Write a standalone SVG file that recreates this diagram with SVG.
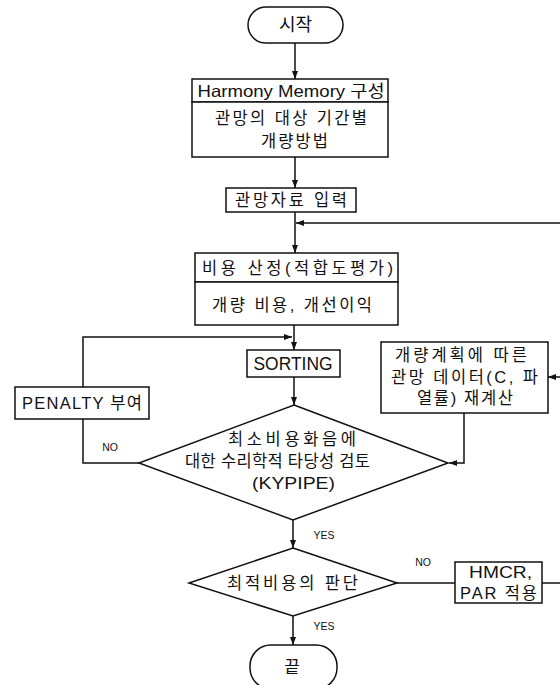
<svg xmlns="http://www.w3.org/2000/svg" width="560" height="685" viewBox="0 0 560 685">
<defs>
<marker id="arr" markerWidth="8" markerHeight="6" refX="8" refY="3" orient="auto" markerUnits="userSpaceOnUse">
<path d="M0,0 L8,3 L0,6 z" fill="#111"/>
</marker>
<style>
.box{fill:#fff;stroke:#111;stroke-width:1.5}
.ln{fill:none;stroke:#111;stroke-width:1.5}
.t{font-family:"Liberation Sans","Noto Sans CJK KR",sans-serif;font-size:16.5px;fill:#111;text-anchor:middle;dominant-baseline:central}
.s{font-family:"Liberation Sans","Noto Sans CJK KR",sans-serif;font-size:10.5px;fill:#111;text-anchor:middle;dominant-baseline:central}
</style>
</defs>
<rect width="560" height="685" fill="#fff"/>
<g id="connectors">
<path class="ln" d="M295,42 V79" marker-end="url(#arr)"/>
<path class="ln" d="M295,157 V188" marker-end="url(#arr)"/>
<path class="ln" d="M295,212 V253" marker-end="url(#arr)"/>
<path class="ln" d="M560,223 H296" marker-end="url(#arr)"/>
<path class="ln" d="M294,325 V350" marker-end="url(#arr)"/>
<path class="ln" d="M83,387 V337 H292" marker-end="url(#arr)"/>
<path class="ln" d="M294,377 V405" marker-end="url(#arr)"/>
<path class="ln" d="M139,463 H83 V419"/>
<path class="ln" d="M464,413 V463 H449" marker-end="url(#arr)"/>
<path class="ln" d="M560,377 H548" marker-end="url(#arr)"/>
<path class="ln" d="M293,520 V548" marker-end="url(#arr)"/>
<path class="ln" d="M397,583 H455"/>
<path class="ln" d="M542,583 H560"/>
<path class="ln" d="M293,616 V645" marker-end="url(#arr)"/>
<text class="s" x="110" y="447">NO</text>
<text class="s" x="324" y="535">YES</text>
<text class="s" x="423" y="562">NO</text>
<text class="s" x="324" y="626">YES</text>
</g>
<g id="start">
<rect class="box" x="248" y="7" width="95" height="36" rx="18" ry="18"/>
<text class="t" x="295.5" y="25" style="font-size:18px">시작</text>
</g>
<g id="hm">
<rect class="box" x="192" y="79" width="196" height="23"/>
<rect class="box" x="192" y="102" width="196" height="55"/>
<text class="t" x="291" y="91" textLength="187" lengthAdjust="spacingAndGlyphs">Harmony Memory 구성</text>
<text class="t" x="291" y="118" textLength="152" lengthAdjust="spacing">관망의 대상 기간별</text>
<text class="t" x="294.5" y="141" textLength="67" lengthAdjust="spacing">개량방법</text>
</g>
<g id="input">
<rect class="box" x="226" y="188" width="130" height="24"/>
<text class="t" x="291" y="200" textLength="112" lengthAdjust="spacing">관망자료 입력</text>
</g>
<g id="cost">
<rect class="box" x="195" y="253" width="203" height="29"/>
<rect class="box" x="195" y="282" width="203" height="43"/>
<text class="t" x="297.5" y="268" textLength="191" lengthAdjust="spacing">비용 산정(적합도평가)</text>
<text class="t" x="292" y="305" textLength="160" lengthAdjust="spacing">개량 비용, 개선이익</text>
</g>
<g id="sorting">
<rect class="box" x="247" y="350" width="93" height="27"/>
<text class="t" x="293" y="363.5" textLength="79" lengthAdjust="spacingAndGlyphs" style="font-size:17.5px">SORTING</text>
</g>
<g id="penalty">
<rect class="box" x="15" y="387" width="134" height="32"/>
<text class="t" x="82" y="403" textLength="120" lengthAdjust="spacing">PENALTY 부여</text>
</g>
<g id="recalc">
<rect class="box" x="381" y="342" width="167" height="71"/>
<text class="t" x="461" y="355" textLength="132" lengthAdjust="spacing">개량계획에 따른</text>
<text class="t" x="464.5" y="377" textLength="147" lengthAdjust="spacing">관망 데이터(C, 파</text>
<text class="t" x="465" y="398" textLength="96" lengthAdjust="spacing">열률) 재계산</text>
</g>
<g id="check">
<polygon class="box" points="294,405 448,463 293,520 139,463"/>
<text class="t" x="292" y="439" textLength="128" lengthAdjust="spacing">최소비용화음에</text>
<text class="t" x="277.5" y="461" textLength="185" lengthAdjust="spacing">대한 수리학적 타당성 검토</text>
<text class="t" x="293.5" y="483" textLength="83" lengthAdjust="spacingAndGlyphs">(KYPIPE)</text>
</g>
<g id="optimal">
<polygon class="box" points="293,548 397,583 293,616 189,583"/>
<text class="t" x="292.5" y="583" textLength="131" lengthAdjust="spacing">최적비용의 판단</text>
</g>
<g id="hmcr">
<rect class="box" x="455" y="562" width="87" height="41"/>
<text class="t" x="500.5" y="572" textLength="63" lengthAdjust="spacingAndGlyphs">HMCR,</text>
<text class="t" x="498.5" y="593" textLength="77" lengthAdjust="spacing">PAR 적용</text>
</g>
<g id="end">
<rect class="box" x="250" y="645" width="87" height="44" rx="21" ry="21"/>
<text class="t" x="292" y="667" style="font-size:17px">끝</text>
</g>
</svg>
